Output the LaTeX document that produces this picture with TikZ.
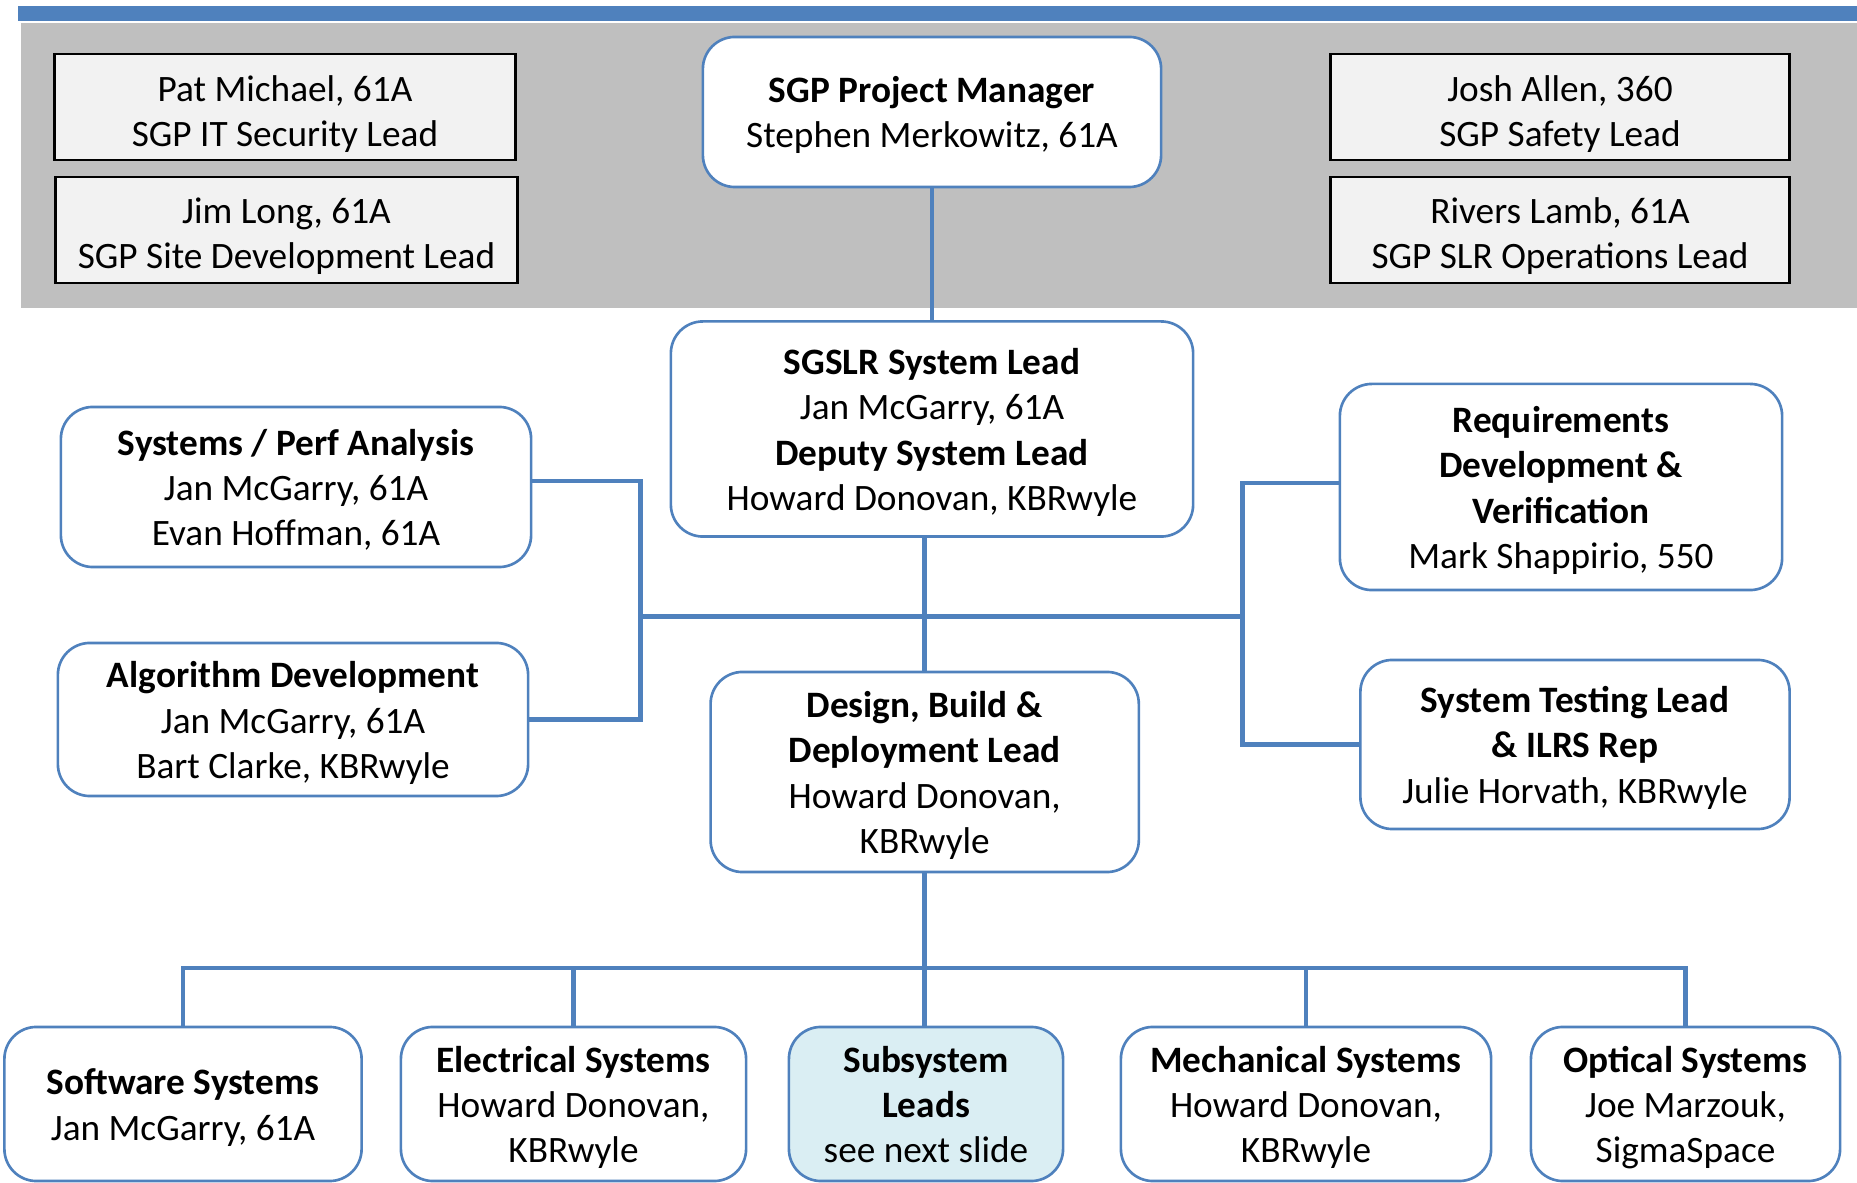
\documentclass[tikz,border=0pt]{standalone}
\usepackage{fontspec}
\setmainfont{Carlito}
\definecolor{obl}{HTML}{4F81BD}
\definecolor{bandgray}{HTML}{BFBFBF}
\definecolor{boxgray}{HTML}{F2F2F2}
\definecolor{subfill}{HTML}{DAEEF3}
\newcommand{\btxt}[2][-0.045cm]{\raisebox{#1}[\height][\depth]{\begin{tabular}{@{}c@{}}#2\end{tabular}}}
\tikzset{
  txt/.style={font=\fontsize{10.6}{12.8}\selectfont, inner sep=0pt, text=black},
  graybox/.style={txt, rectangle, draw=black, fill=boxgray, line width=0.8pt},
  bluebox/.style={txt, rectangle, draw=obl, fill=white, line width=0.75pt, rounded corners=0.32cm},
  conn/.style={draw=obl, line width=1.3pt},
}
\begin{document}
\begin{tikzpicture}[x=0.01cm,y=-0.01cm]
\useasboundingbox (0,0) rectangle (1857,1183);
% header band
\fill[obl] (18,6) rectangle (1857,21);
\fill[bandgray] (21,23) rectangle (1857,308);

% top gray boxes
\node[graybox, minimum width=4.61cm, minimum height=1.06cm] (pat) at (285,107) {\btxt[-0.08cm]{Pat Michael, 61A\\SGP IT Security Lead}};
\node[graybox, minimum width=4.61cm, minimum height=1.06cm] (jim) at (286.5,230) {\btxt[-0.07cm]{Jim Long, 61A\\SGP Site Development Lead}};
\node[graybox, minimum width=4.58cm, minimum height=1.06cm] (josh) at (1560,107) {\btxt[-0.08cm]{Josh Allen, 360\\SGP Safety Lead}};
\node[graybox, minimum width=4.58cm, minimum height=1.06cm] (rivers) at (1560,230) {\btxt[-0.07cm]{Rivers Lamb, 61A\\SGP SLR Operations Lead}};

% main boxes
\node[bluebox, minimum width=4.58cm, minimum height=1.50cm] (pm) at (932,112) {\btxt{\textbf{SGP Project Manager}\\Stephen Merkowitz, 61A}};
\node[bluebox, minimum width=5.22cm, minimum height=2.15cm] (sgslr) at (932,429) {\btxt{\textbf{SGSLR System Lead}\\Jan McGarry, 61A\\\textbf{Deputy System Lead}\\Howard Donovan, KBRwyle}};
\node[bluebox, minimum width=4.70cm, minimum height=1.60cm] (syspf) at (296,487) {\btxt{\textbf{Systems / Perf Analysis}\\Jan McGarry, 61A\\Evan Hoffman, 61A}};
\node[bluebox, minimum width=4.70cm, minimum height=1.53cm] (algo) at (293,719.5) {\btxt{\textbf{Algorithm Development}\\Jan McGarry, 61A\\Bart Clarke, KBRwyle}};
\node[bluebox, minimum width=4.28cm, minimum height=2.00cm] (design) at (924.7,772) {\btxt{\textbf{Design, Build \&}\\\textbf{Deployment Lead}\\Howard Donovan,\\KBRwyle}};
\node[bluebox, minimum width=4.42cm, minimum height=2.06cm] (req) at (1561,487) {\btxt{\textbf{Requirements}\\\textbf{Development \&}\\\textbf{Verification}\\Mark Shappirio, 550}};
\node[bluebox, minimum width=4.29cm, minimum height=1.69cm] (systest) at (1575,744.5) {\btxt{\textbf{System Testing Lead}\\\textbf{\& ILRS Rep}\\Julie Horvath, KBRwyle}};

% bottom boxes
\node[bluebox, minimum width=3.57cm, minimum height=1.54cm] (soft) at (183,1104) {\btxt{\textbf{Software Systems}\\Jan McGarry, 61A}};
\node[bluebox, minimum width=3.45cm, minimum height=1.54cm] (elec) at (573.5,1104) {\btxt{\textbf{Electrical Systems}\\Howard Donovan,\\KBRwyle}};
\node[bluebox, fill=subfill, minimum width=2.74cm, minimum height=1.54cm] (subsys) at (926,1104) {\btxt{\textbf{Subsystem}\\\textbf{Leads}\\see next slide}};
\node[bluebox, minimum width=3.70cm, minimum height=1.54cm] (mech) at (1306,1104) {\btxt{\textbf{Mechanical Systems}\\Howard Donovan,\\KBRwyle}};
\node[bluebox, minimum width=3.09cm, minimum height=1.54cm] (opt) at (1685.5,1104) {\btxt{\textbf{Optical Systems}\\Joe Marzouk,\\SigmaSpace}};

% junction coordinates
\coordinate (lv) at (640.6,616.7);
\coordinate (rv) at (1242.6,616.7);
\coordinate (bl) at (183,968);
\coordinate (br) at (1685.5,968);

% connectors
\draw[conn] (pm.south) -- (sgslr.north);
\draw[conn] (design.north |- sgslr.south) -- (design.north);
\draw[conn] (lv) -- (rv);
\draw[conn] ([yshift=0.06cm]syspf.east) -| (lv);
\draw[conn] (algo.east) -| (lv);
\draw[conn] ([yshift=0.04cm]req.west) -| (rv);
\draw[conn] (systest.west) -| (rv);
\draw[conn] (design.south) -- (design.south |- subsys.north);
\draw[conn] (soft.north) -- (bl) -- (br) -- (opt.north);
\draw[conn] (elec.north) -- (elec.north |- bl);
\draw[conn] (mech.north) -- (mech.north |- bl);
\end{tikzpicture}
\end{document}
